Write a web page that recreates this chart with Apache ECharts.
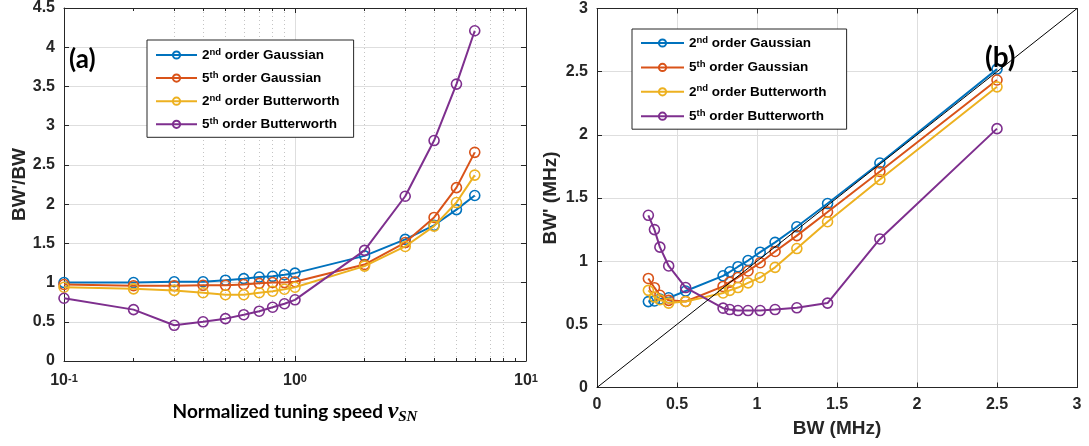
<!DOCTYPE html>
<html><head><meta charset="utf-8">
<script src="https://cdn.jsdelivr.net/npm/echarts@6/dist/echarts.min.js"></script>
<style>html,body{margin:0;padding:0;background:#fff}#c{width:1089px;height:446px}</style>
</head><body><div id="c"></div>
<script>
// ---------- data ----------
const seriesNames = ['2nd order Gaussian', '5th order Gaussian', '2nd order Butterworth', '5th order Butterworth'];
const legendLabels = ['2{sup|nd} order Gaussian', '5{sup|th} order Gaussian', '2{sup|nd} order Butterworth', '5{sup|th} order Butterworth'];
const seriesColors = ['#0072BD', '#D95319', '#EDB120', '#7E2F8E'];

// (a) normalized tuning speed vs BW'/BW
const speedSN = [0.1, 0.2, 0.3, 0.4, 0.5, 0.6, 0.7, 0.8, 0.9, 1, 2, 3, 4, 5, 6];
const ratioGauss2 = [1.00, 1.00, 1.01, 1.01, 1.03, 1.05, 1.07, 1.08, 1.10, 1.12, 1.34, 1.55, 1.73, 1.93, 2.11];
const ratioGauss5 = [0.975, 0.96, 0.96, 0.965, 0.965, 0.975, 0.99, 1.00, 1.00, 1.01, 1.23, 1.51, 1.83, 2.21, 2.66];
const ratioButter2 = [0.94, 0.92, 0.90, 0.87, 0.845, 0.845, 0.87, 0.89, 0.915, 0.94, 1.21, 1.46, 1.72, 2.02, 2.37];
const ratioButter5 = [0.80, 0.655, 0.455, 0.50, 0.54, 0.59, 0.635, 0.685, 0.73, 0.78, 1.41, 2.10, 2.81, 3.53, 4.21];

// (b) BW vs BW'
const bwMHz = [2.5, 1.768, 1.441, 1.249, 1.113, 1.020, 0.944, 0.881, 0.830, 0.788, 0.554, 0.448, 0.393, 0.359, 0.321];
const bwGauss2 = [2.52, 1.777, 1.456, 1.272, 1.149, 1.071, 1.005, 0.956, 0.916, 0.884, 0.764, 0.71, 0.70, 0.685, 0.68];
const bwGauss5 = [2.434, 1.71, 1.389, 1.202, 1.077, 0.988, 0.922, 0.871, 0.834, 0.80, 0.681, 0.69, 0.73, 0.79, 0.863];
const bwButter2 = [2.38, 1.646, 1.312, 1.10, 0.951, 0.871, 0.828, 0.791, 0.769, 0.748, 0.681, 0.668, 0.695, 0.716, 0.769];
const bwButter5 = [2.049, 1.176, 0.668, 0.631, 0.617, 0.609, 0.609, 0.609, 0.617, 0.628, 0.791, 0.962, 1.111, 1.25, 1.363];

const diagX = [0, 3];
const diagY = [0, 3];

const logMinorTicks = [0.2, 0.3, 0.4, 0.5, 0.6, 0.7, 0.8, 0.9, 2, 3, 4, 5, 6, 7, 8, 9];
const logTickLabels = {'0.1': '10{sup|-1}', '1': '10{sup|0}', '10': '10{sup|1}'};

const ratioSets = [ratioGauss2, ratioGauss5, ratioButter2, ratioButter5];
const bwSets = [bwGauss2, bwGauss5, bwButter2, bwButter5];

// ---------- styles ----------
const AX = '#262626';
const GRID = '#dedede';
const FONT = "'Liberation Sans', Arial, Helvetica, sans-serif";
const tickLabel = {color: AX, fontSize: 16, fontWeight: 'bold', fontFamily: FONT};

function mirrorAxis(base, extra) {
  return Object.assign({
    axisLine: {show: true, onZero: false, lineStyle: {color: AX, width: 1}},
    axisTick: {show: true, inside: true, length: 5, lineStyle: {color: AX}},
    axisLabel: {show: false},
    splitLine: {show: false}
  }, base, extra || {});
}

const xAxes = [
  // 0: (a) bottom, main
  {gridIndex: 0, type: 'log', logBase: 10, min: 0.1, max: 10, position: 'bottom',
   axisLine: {show: true, onZero: false, lineStyle: {color: AX, width: 1}},
   axisTick: {show: true, inside: true, length: 5, lineStyle: {color: AX}},
   axisLabel: {margin: 12, ...tickLabel,
     formatter: v => logTickLabels[String(v)] || String(v),
     rich: {sup: {fontSize: 11, fontWeight: 'bold', fontFamily: FONT, color: AX, lineHeight: 6, verticalAlign: 'top'}}},
   splitLine: {show: true, showMinLine: false, showMaxLine: false, lineStyle: {color: GRID, width: 1}},
   name: 'Normalized tuning speed {v|v}{sub|SN}', nameLocation: 'middle', nameGap: 38,
   nameTextStyle: {fontFamily: "Lato, 'Open Sans', sans-serif", fontWeight: 'bold', fontSize: 19, color: '#000', lineHeight: 26,
     rich: {
       v: {fontFamily: "'Liberation Serif', 'DejaVu Serif', serif", fontStyle: 'italic', fontSize: 24, color: '#000', lineHeight: 26},
       sub: {fontFamily: "'Liberation Serif', 'DejaVu Serif', serif", fontStyle: 'italic', fontSize: 15, color: '#000', lineHeight: 10, verticalAlign: 'bottom'}
     }}},
  // 1: (a) bottom, minor log ticks + dotted minor grid
  {gridIndex: 0, type: 'log', logBase: 10, min: 0.1, max: 10, position: 'bottom',
   axisLine: {show: false, onZero: false},
   axisTick: {show: true, inside: true, length: 3, lineStyle: {color: AX}, customValues: logMinorTicks},
   axisLabel: {show: false},
   splitLine: {show: true, showMinLine: false, showMaxLine: false, lineStyle: {color: '#c4c4c4', width: 1, type: [1, 3]}}},
  // 2: (a) top mirror
  mirrorAxis({gridIndex: 0, type: 'log', logBase: 10, min: 0.1, max: 10, position: 'top'}),
  // 3: (a) top minor
  {gridIndex: 0, type: 'log', logBase: 10, min: 0.1, max: 10, position: 'top',
   axisLine: {show: false, onZero: false},
   axisTick: {show: true, inside: true, length: 3, lineStyle: {color: AX}, customValues: logMinorTicks},
   axisLabel: {show: false}, splitLine: {show: false}},
  // 4: (b) bottom main
  {gridIndex: 1, type: 'value', min: 0, max: 3, interval: 0.5, position: 'bottom',
   axisLine: {show: true, onZero: false, lineStyle: {color: AX, width: 1}},
   axisTick: {show: true, inside: true, length: 5, lineStyle: {color: AX}},
   axisLabel: {margin: 9, ...tickLabel},
   splitLine: {show: true, showMinLine: false, showMaxLine: false, lineStyle: {color: GRID, width: 1}},
   name: 'BW (MHz)', nameLocation: 'middle', nameGap: 30,
   nameTextStyle: {fontFamily: FONT, fontWeight: 'bold', fontSize: 19, color: AX, lineHeight: 22}},
  // 5: (b) top mirror
  mirrorAxis({gridIndex: 1, type: 'value', min: 0, max: 3, interval: 0.5, position: 'top'})
];

const yAxes = [
  // 0: (a) left main
  {gridIndex: 0, type: 'value', min: 0, max: 4.5, interval: 0.5, position: 'left',
   axisLine: {show: true, onZero: false, lineStyle: {color: AX, width: 1}},
   axisTick: {show: true, inside: true, length: 5, lineStyle: {color: AX}},
   axisLabel: {margin: 9, ...tickLabel},
   splitLine: {show: true, showMinLine: false, showMaxLine: false, lineStyle: {color: GRID, width: 1}},
   name: "BW'/BW", nameLocation: 'middle', nameGap: 30,
   nameTextStyle: {fontFamily: FONT, fontWeight: 'bold', fontSize: 19, color: AX, lineHeight: 19}},
  // 1: (a) right mirror
  mirrorAxis({gridIndex: 0, type: 'value', min: 0, max: 4.5, interval: 0.5, position: 'right'}),
  // 2: (b) left main
  {gridIndex: 1, type: 'value', min: 0, max: 3, interval: 0.5, position: 'left',
   axisLine: {show: true, onZero: false, lineStyle: {color: AX, width: 1}},
   axisTick: {show: true, inside: true, length: 5, lineStyle: {color: AX}},
   axisLabel: {margin: 9, ...tickLabel},
   splitLine: {show: true, showMinLine: false, showMaxLine: false, lineStyle: {color: GRID, width: 1}},
   name: "BW' (MHz)", nameLocation: 'middle', nameGap: 37,
   nameTextStyle: {fontFamily: FONT, fontWeight: 'bold', fontSize: 19, color: AX, lineHeight: 19}},
  // 3: (b) right mirror
  mirrorAxis({gridIndex: 1, type: 'value', min: 0, max: 3, interval: 0.5, position: 'right'})
];

const series = [];
seriesNames.forEach((name, i) => {
  const c = seriesColors[i];
  const common = {
    type: 'line', name: name, symbol: 'circle', symbolSize: 10, showAllSymbol: true,
    lineStyle: {color: c, width: 2},
    itemStyle: {color: 'rgba(255,255,255,0)', borderColor: c, borderWidth: 1.6},
    emphasis: {disabled: true}, z: 3 + i
  };
  series.push(Object.assign({}, common, {
    xAxisIndex: 0, yAxisIndex: 0,
    data: speedSN.map((x, j) => [x, ratioSets[i][j]])
  }));
  series.push(Object.assign({}, common, {
    xAxisIndex: 4, yAxisIndex: 2,
    data: bwMHz.map((x, j) => [x, bwSets[i][j]])
  }));
});
series.push({
  type: 'line', name: 'BW = BW\'', xAxisIndex: 4, yAxisIndex: 2, symbol: 'none', silent: true,
  lineStyle: {color: '#000', width: 1}, z: 10,
  data: diagX.map((x, j) => [x, diagY[j]])
});

function legendCfg(left, top, itemWidth, gap, pad) {
  return {
    data: seriesNames, orient: 'vertical', left: left, top: top,
    itemWidth: itemWidth, itemHeight: 9, itemGap: gap, padding: pad,
    borderColor: AX, borderWidth: 1, backgroundColor: '#fff', borderRadius: 0,
    selectedMode: false,
    formatter: n => legendLabels[seriesNames.indexOf(n)],
    textStyle: {fontFamily: FONT, fontWeight: 'bold', fontSize: 13.5, color: '#000', lineHeight: 16,
      rich: {sup: {fontFamily: FONT, fontWeight: 'bold', fontSize: 9.5, color: '#000', lineHeight: 6, verticalAlign: 'top'}}}
  };
}

const option = {
  animation: false,
  backgroundColor: '#fff',
  grid: [
    {left: 64, top: 7, width: 462, height: 354},
    {left: 597, top: 8.5, width: 480, height: 379}
  ],
  xAxis: xAxes,
  yAxis: yAxes,
  legend: [
    legendCfg(147, 40, 41, 7.1, [7, 14, 5, 8]),
    legendCfg(632, 29, 43, 8.4, [6, 20, 5, 8])
  ],
  graphic: [
    {type: 'text', left: 69, top: 47, z: 100,
     style: {text: '(a)', fontFamily: "Lato, 'Open Sans', sans-serif", fontWeight: 'bold', fontSize: 26, fill: '#000'}},
    {type: 'text', left: 985, top: 44, z: 100,
     style: {text: '(b)', fontFamily: "Lato, 'Open Sans', sans-serif", fontWeight: 'bold', fontSize: 28, fill: '#000'}}
  ],
  series: series
};

const chart = echarts.init(document.getElementById('c'), null, {renderer: 'canvas'});
chart.setOption(option);
</script>
</body></html>
